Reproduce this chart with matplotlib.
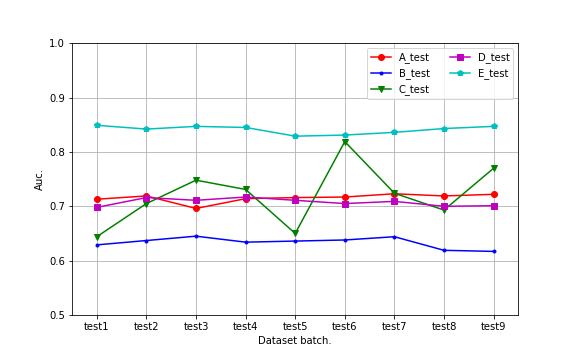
import matplotlib
matplotlib.use('Agg')
import matplotlib.pyplot as plt

batches = ['test1', 'test2', 'test3', 'test4', 'test5', 'test6', 'test7', 'test8', 'test9']
a_test = [0.713, 0.719, 0.696, 0.714, 0.716, 0.717, 0.723, 0.719, 0.722]
b_test = [0.629, 0.637, 0.645, 0.634, 0.636, 0.638, 0.644, 0.619, 0.617]
c_test = [0.644, 0.705, 0.748, 0.731, 0.650, 0.819, 0.724, 0.693, 0.770]
d_test = [0.698, 0.716, 0.711, 0.717, 0.711, 0.705, 0.709, 0.700, 0.701]
e_test = [0.849, 0.842, 0.847, 0.845, 0.829, 0.831, 0.836, 0.843, 0.847]

fig = plt.figure(figsize=(8, 5), dpi=72)
plt.subplots_adjust(bottom=0.125)
plt.plot(batches, a_test, color='r', marker='o', label='A_test')
plt.plot(batches, b_test, color='b', marker='.', label='B_test')
plt.plot(batches, c_test, color='g', marker='v', label='C_test')
plt.plot(batches, d_test, color='m', marker='s', label='D_test')
plt.plot(batches, e_test, color='c', marker='p', label='E_test')
plt.xlim(-0.5, 8.5)
plt.ylim(0.5, 1.0)
plt.xlabel('Dataset batch.')
plt.ylabel('Auc.')
plt.grid(True)
plt.legend(loc='upper right', ncol=2)
plt.savefig('out.png', dpi=72)
